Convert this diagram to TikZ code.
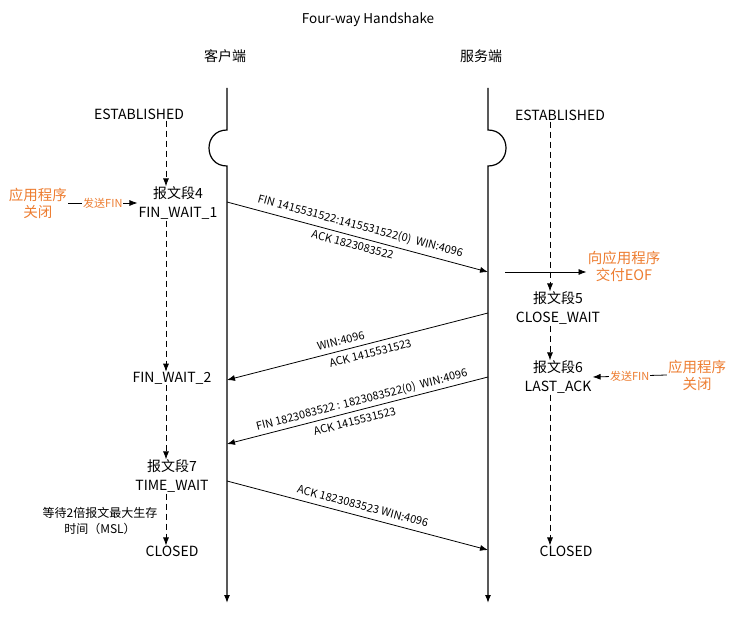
\documentclass[tikz,border=0pt]{standalone}
\usepackage{fontspec}
\setmainfont{Noto Sans CJK SC}
\usepackage{tikz}
\usetikzlibrary{calc,arrows.meta}
\definecolor{apporange}{RGB}{237,125,49}
\tikzset{>={Latex[length=8pt,width=6pt]}}
\tikzset{
  state/.style = {font=\fontsize{14}{19}\selectfont, align=center, inner sep=1pt},
  app/.style = {text=apporange, font=\fontsize{14.5}{17}\selectfont, align=center, inner sep=1pt},
  msg/.style = {font=\fontsize{11}{13}\selectfont, sloped, inner sep=2pt},
  wait/.style = {->, dash pattern=on 6pt off 4pt, line width=0.8pt},
  lifeline/.style = {->, line width=1.2pt},
  segment/.style = {->, line width=0.8pt},
  sendfin/.style = {fill=white, inner sep=1pt, text=apporange, font=\fontsize{11}{13}\selectfont}
}

\begin{document}
\begin{tikzpicture}[x=1pt, y=-1pt]
\useasboundingbox (0,0) rectangle (737,634);

\node[font=\fontsize{13.5}{16}\selectfont] (title) at (368,20) {Four-way Handshake};
\node[font=\fontsize{14}{16}\selectfont] (client) at (225,56) {客户端};
\node[font=\fontsize{14}{16}\selectfont] (server) at (481,56) {服务端};

% lifelines
\draw[lifeline] (227,88) -- (227,130) ..controls (203,130) and (203,166).. (227,166) -- (227,603);
\draw[lifeline] (488,88) -- (488,130) ..controls (512,130) and (512,166).. (488,166) -- (488,603);

\coordinate (lc) at (166,0);
\coordinate (rc) at (550,0);

\begin{scope}
\node[state] (est1) at (139,114) {ESTABLISHED};
\node[state] (fw1) at (178,203) {报文段4\\FIN\_WAIT\_1};
\node[state] (fw2) at (172,378) {FIN\_WAIT\_2};
\node[state] (tw) at (172,476) {报文段7\\TIME\_WAIT};
\node[state] (cl1) at (172,551) {CLOSED};
\draw[wait] (est1.south -| lc) -- ([yshift=-1pt]fw1.north -| lc);
\draw[wait] (fw1.south -| lc) -- ([yshift=-1pt]fw2.north -| lc);
\draw[wait] (fw2.south -| lc) -- ([yshift=-1pt]tw.north -| lc);
\draw[wait] (tw.south -| lc) -- ([yshift=-1pt]cl1.north -| lc);
\node[font=\fontsize{12}{16}\selectfont, align=center] (msl) at (100,521) {等待2倍报文最大生存\\时间（MSL）};
\node[app] (app1) at (38,203) {应用程序\\关闭};
\draw[segment] (app1.east) -- (fw1.west) node[midway, sendfin] {发送FIN};
\end{scope}

\begin{scope}
\node[state] (est2) at (560,115) {ESTABLISHED};
\node[state] (cw) at (558,308) {报文段5\\CLOSE\_WAIT};
\node[state] (la) at (558,377) {报文段6\\LAST\_ACK};
\node[state] (cl2) at (566,551) {CLOSED};
\draw[wait] (est2.south -| rc) -- ([yshift=-1pt]cw.north -| rc);
\draw[wait] (cw.south -| rc) -- ([yshift=-1pt]la.north -| rc);
\draw[wait] (la.south -| rc) -- ([yshift=-1pt]cl2.north -| rc);
\node[app] (eof) at (624,266) {向应用程序\\交付EOF};
\coordinate (eofs) at (505,272);
\draw[segment] (eofs) -- (eofs -| eof.west);
\node[app] (app2) at (697,375) {应用程序\\关闭};
\draw[segment] (app2.west) -- (la.east) node[midway, sendfin] {发送FIN};
\end{scope}

% segments
\coordinate (m1a) at (227,202);
\coordinate (m1b) at (488,272);
\coordinate (m2a) at (488,313);
\coordinate (m2b) at (227,380);
\coordinate (m3a) at (488,377);
\coordinate (m3b) at (227,444);
\coordinate (m4a) at (227,481);
\coordinate (m4b) at (488,550);
\draw[segment] (m1a) -- (m1b)
  node[msg, above=3pt, pos=0.5] {FIN 1415531522:1415531522(0)~~WIN:4096}
  node[msg, below=2pt, pos=0.49] {ACK 1823083522};
\draw[segment] (m2a) -- (m2b)
  node[msg, above=3pt, pos=0.555] {WIN:4096}
  node[msg, below=3pt, pos=0.46] {ACK 1415531523};
\draw[segment] (m3a) -- (m3b)
  node[msg, above=1pt, pos=0.475] {FIN 1823083522 : 1823083522(0)~~WIN:4096}
  node[msg, below=3pt, pos=0.52] {ACK 1415531523};
\draw[segment] (m4a) -- (m4b)
  node[msg, above=4pt, pos=0.51] {ACK 1823083523 WIN:4096};
\end{tikzpicture}
\end{document}
